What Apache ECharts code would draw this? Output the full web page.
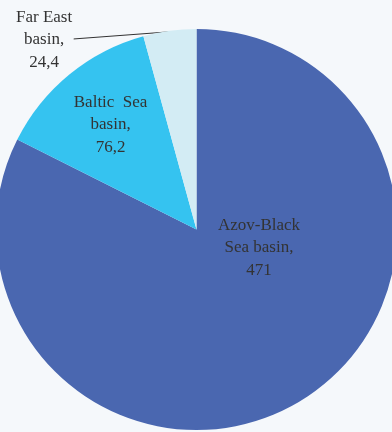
<!DOCTYPE html>
<html>
<head>
<meta charset="utf-8">
<style>
  html, body { margin: 0; padding: 0; background: #f5f8fb; }
  #chart { width: 392px; height: 432px; }
</style>
<script src="https://cdn.jsdelivr.net/npm/echarts@6/dist/echarts.min.js"></script>
</head>
<body>
<div id="chart"></div>
<script>
// Sea basins and their values (comma as decimal separator in labels)
const basinNames = ['Azov-Black\nSea basin,', 'Baltic  Sea\nbasin,', 'Far East\nbasin,'];
const basinValues = [471, 76.2, 24.4];
const basinColors = ['#4a67b0', '#35c3f0', '#d3ecf4'];

const chart = echarts.init(document.getElementById('chart'));

const fmt = v => String(v).replace('.', ',');
const total = basinValues.reduce((a, b) => a + b, 0);

const data = basinNames.map((name, i) => ({
  name: name,
  value: basinValues[i],
  itemStyle: { color: basinColors[i] }
}));

// Far East label sits outside the pie with a leader line
data[2].label = { position: 'outside' };
data[2].labelLine = {
  show: true,
  length: 2,
  length2: 20,
  lineStyle: { color: '#333', width: 1 }
};

const cx = 196.5, cy = 229.5, R = 200.5;

// Label anchors as polar offsets from the pie centre (angle clockwise from top, fraction of radius)
const labelSpots = [
  { ang: 106.5, frac: 0.325 },
  { ang: 320.6, frac: 0.675 },
  { ang: 321.2, frac: 1.213 }
];

// Mid-angle of a slice, clockwise from the top
function midAngle(idx) {
  let start = 0;
  for (let i = 0; i < idx; i++) start += basinValues[i];
  return (start + basinValues[idx] / 2) / total * 360;
}

chart.setOption({
  backgroundColor: '#f5f8fb',
  animation: false,
  series: [{
    type: 'pie',
    center: [cx, cy],
    radius: R,
    startAngle: 90,
    clockwise: true,
    avoidLabelOverlap: false,
    itemStyle: { borderWidth: 0 },
    label: {
      show: true,
      position: 'inside',
      fontFamily: 'Liberation Serif',
      fontSize: 17,
      lineHeight: 22.5,
      color: '#333',
      formatter: p => p.name + '\n' + fmt(p.value)
    },
    labelLine: { show: false },
    labelLayout: function (params) {
      const i = params.dataIndex;
      const s = labelSpots[i];
      const a = s.ang * Math.PI / 180;
      const x = cx + Math.sin(a) * R * s.frac;
      const y = cy - Math.cos(a) * R * s.frac;
      const out = { x: x, y: y, align: 'center', verticalAlign: 'middle' };
      if (i === 2) {
        // leader line from just inside the slice edge to the label's right side
        const m = midAngle(i) * Math.PI / 180;
        out.labelLinePoints = [
          [cx + Math.sin(m) * R * 0.995, cy - Math.cos(m) * R * 0.995],
          [x + params.rect.width / 2 + 3, y - 1],
          [x + params.rect.width / 2 + 3, y - 1]
        ];
      }
      return out;
    },
    data: data
  }]
});
</script>
</body>
</html>
